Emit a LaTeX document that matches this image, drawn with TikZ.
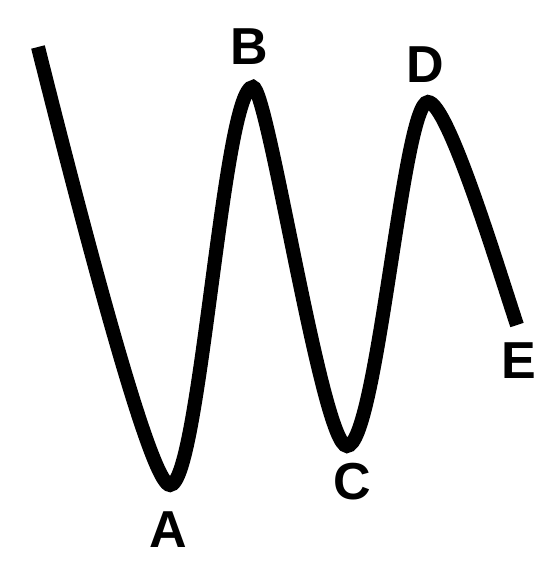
\documentclass[tikz,border=0pt]{standalone}
\usepackage{fontspec}
\setmainfont{Liberation Sans}
\usepackage{tikz}

\begin{document}
\begin{tikzpicture}[x=1pt, y=-1pt,
  every node/.style={font=\bfseries\fontsize{52}{52}\selectfont},
  wave/.style={line width=14pt},
  lab/.style={inner sep=0pt}]
  \useasboundingbox (0,0) rectangle (559,570);
  % turning points of the curve
  \coordinate (start) at (38,47);
  \coordinate (A) at (170,485);
  \coordinate (B) at (253,87);
  \coordinate (C) at (347,446);
  \coordinate (D) at (428,102);
  \coordinate (E) at (517,325);
  \draw[wave] (start) .. controls (111,338) and (155,485) .. (A)
    .. controls (200,485) and (223,87) .. (B)
    .. controls (268,87) and (322,446) .. (C)
    .. controls (377,446) and (403,102) .. (D)
    .. controls (448,102) and (498,268) .. (E);
  \node[lab] (labA) at (168,530) {A};
  \node[lab] (labB) at (249,47) {B};
  \node[lab] (labC) at (352,482) {C};
  \node[lab] (labD) at (425,65) {D};
  \node[lab] (labE) at (519,361) {E};
\end{tikzpicture}
\end{document}
